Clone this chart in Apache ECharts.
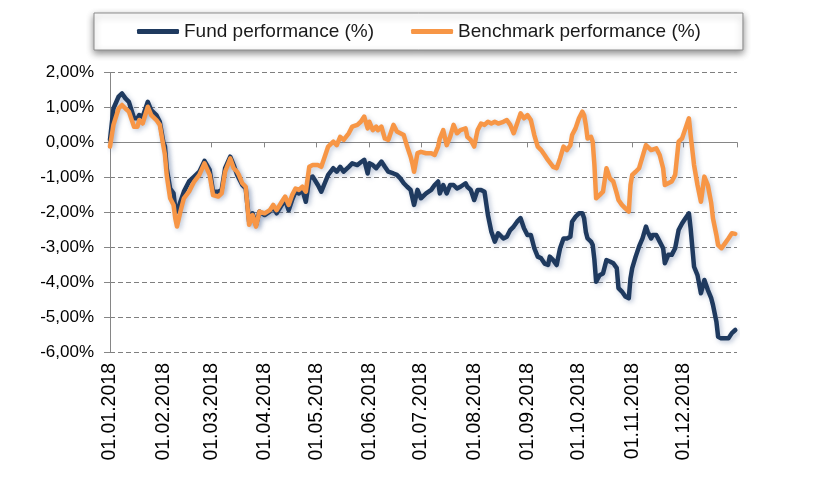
<!DOCTYPE html>
<html><head><meta charset="utf-8">
<script src="https://cdn.jsdelivr.net/npm/echarts@6/dist/echarts.min.js"></script>
<style>html,body{margin:0;padding:0;background:#fff}#c{width:830px;height:481px}</style>
</head><body><div id="c"></div>
<script>
const seriesNames = ['Fund performance (%)', 'Benchmark performance (%)'];

const dates = [
'2018-01-01','2018-01-03','2018-01-06','2018-01-08','2018-01-10','2018-01-12','2018-01-15','2018-01-17','2018-01-18','2018-01-20',
'2018-01-23','2018-01-25','2018-01-28','2018-01-30','2018-02-01','2018-02-02','2018-02-03','2018-02-05','2018-02-07','2018-02-08',
'2018-02-09','2018-02-11','2018-02-13','2018-02-16','2018-02-19','2018-02-22','2018-02-25','2018-02-28','2018-03-02','2018-03-05',
'2018-03-07','2018-03-09','2018-03-12','2018-03-14','2018-03-16','2018-03-17','2018-03-19','2018-03-21','2018-03-23','2018-03-25',
'2018-03-27','2018-03-29','2018-04-01','2018-04-04','2018-04-06','2018-04-08','2018-04-11','2018-04-13','2018-04-15','2018-04-17',
'2018-04-19','2018-04-21','2018-04-23','2018-04-25','2018-04-27','2018-04-29',
'2018-05-02','2018-05-04','2018-05-06','2018-05-08','2018-05-11','2018-05-13','2018-05-15','2018-05-17','2018-05-20','2018-05-22',
'2018-05-25','2018-05-27','2018-05-29','2018-05-31','2018-06-01','2018-06-03','2018-06-05','2018-06-06','2018-06-08','2018-06-10',
'2018-06-12','2018-06-15','2018-06-17','2018-06-19','2018-06-21','2018-06-23','2018-06-25','2018-06-26','2018-06-27','2018-06-29',
'2018-07-01','2018-07-04','2018-07-07','2018-07-09','2018-07-11','2018-07-12','2018-07-14','2018-07-16','2018-07-18','2018-07-20',
'2018-07-22','2018-07-24','2018-07-27','2018-07-28','2018-07-30','2018-08-01','2018-08-03','2018-08-05','2018-08-07','2018-08-09',
'2018-08-11','2018-08-13','2018-08-15','2018-08-18','2018-08-20','2018-08-22','2018-08-24','2018-08-26','2018-08-28','2018-08-30',
'2018-09-01','2018-09-03','2018-09-05','2018-09-07','2018-09-09','2018-09-11','2018-09-13','2018-09-14','2018-09-16','2018-09-18',
'2018-09-20','2018-09-22','2018-09-24','2018-09-26','2018-09-27','2018-09-29','2018-10-01','2018-10-03','2018-10-04','2018-10-05',
'2018-10-06','2018-10-08','2018-10-09','2018-10-10','2018-10-11','2018-10-13','2018-10-15','2018-10-17','2018-10-19','2018-10-21',
'2018-10-23','2018-10-24','2018-10-26','2018-10-28','2018-10-30','2018-10-31','2018-11-01','2018-11-03','2018-11-05','2018-11-07',
'2018-11-09','2018-11-10','2018-11-12','2018-11-13','2018-11-15','2018-11-17','2018-11-19','2018-11-20','2018-11-22','2018-11-24',
'2018-11-26','2018-11-28','2018-11-30','2018-12-02','2018-12-04','2018-12-05','2018-12-07','2018-12-09','2018-12-11','2018-12-13',
'2018-12-15','2018-12-17','2018-12-18','2018-12-20','2018-12-21','2018-12-23','2018-12-25','2018-12-27','2018-12-29','2018-12-31'
];

const fundValues = [
0.07, 0.97, 1.31, 1.40, 1.26, 1.16, 0.69, 0.69, 0.78, 0.73,
1.16, 0.92, 0.78, 0.59, 0.02, -0.12, -0.74, -1.32, -1.46, -1.89,
-1.98, -1.70, -1.41, -1.12, -0.98, -0.84, -0.53, -0.79, -1.41, -1.41,
-1.36, -0.74, -0.41, -0.65, -0.93, -1.03, -1.22, -1.32, -2.27, -2.03,
-2.36, -1.98, -2.08, -1.98, -1.84, -2.03, -1.79, -1.65, -1.94, -1.65,
-1.41, -1.46, -1.36, -1.70, -1.03, -0.98,
-1.22, -1.41, -1.17, -0.93, -0.74, -0.84, -0.70, -0.84, -0.70, -0.60,
-0.65, -0.57, -0.50, -0.89, -0.60, -0.65, -0.74, -0.79, -0.55, -0.70,
-0.84, -0.89, -0.93, -1.03, -1.17, -1.27, -1.36, -1.41, -1.79, -1.36,
-1.60, -1.46, -1.36, -1.22, -1.12, -1.46, -1.22, -1.46, -1.22, -1.22,
-1.32, -1.27, -1.17, -1.27, -1.36, -1.65, -1.36, -1.36, -1.41, -2.08,
-2.56, -2.84, -2.60, -2.75, -2.70, -2.51, -2.41, -2.27, -2.17, -2.46,
-2.65, -2.65, -3.03, -3.27, -3.32, -3.47, -3.51, -3.27, -3.37, -3.51,
-3.03, -2.75, -2.75, -2.70, -2.27, -2.13, -2.03, -2.03, -2.17, -2.56,
-2.75, -2.84, -2.94, -3.37, -3.99, -3.80, -3.75, -3.37, -3.41, -3.46,
-3.60, -4.17, -4.27, -4.41, -4.46, -3.89, -3.60, -3.27, -2.98, -2.75,
-2.41, -2.56, -2.75, -2.65, -2.65, -2.84, -3.03, -3.46, -3.22, -3.22,
-3.03, -2.51, -2.32, -2.17, -2.03, -2.46, -3.56, -3.80, -4.32, -3.94,
-4.22, -4.46, -4.65, -5.13, -5.56, -5.61, -5.61, -5.61, -5.46, -5.37
];

const benchValues = [
-0.12, 0.50, 0.97, 1.07, 0.97, 0.88, 0.45, 0.45, 0.64, 0.54,
1.02, 0.78, 0.64, 0.50, -0.08, -0.36, -0.93, -1.60, -1.79, -2.17,
-2.41, -1.98, -1.60, -1.41, -1.12, -0.93, -0.60, -0.93, -1.51, -1.55,
-1.46, -0.84, -0.46, -0.74, -0.84, -0.93, -1.17, -1.27, -2.36, -2.08,
-2.41, -1.98, -2.03, -1.94, -1.79, -1.94, -1.70, -1.55, -1.79, -1.51,
-1.32, -1.36, -1.27, -1.41, -0.70, -0.65,
-0.65, -0.70, -0.41, -0.12, 0.02, -0.08, 0.16, 0.07, 0.26, 0.45,
0.50, 0.59, 0.74, 0.40, 0.59, 0.35, 0.45, 0.35, 0.45, 0.11,
0.07, 0.50, 0.31, 0.26, 0.21, -0.12, -0.41, -0.60, -0.84, -0.31,
-0.27, -0.31, -0.31, -0.36, -0.12, 0.11, 0.35, -0.08, 0.16, 0.50,
0.26, 0.35, 0.40, 0.16, 0.07, -0.12, 0.35, 0.54, 0.50, 0.59,
0.54, 0.59, 0.54, 0.59, 0.64, 0.50, 0.26, 0.54, 0.83, 0.69,
0.78, 0.64, 0.21, -0.12, -0.22, -0.36, -0.51, -0.55, -0.70, -0.74,
-0.46, -0.12, -0.22, -0.08, 0.21, 0.40, 0.69, 0.88, 0.78, 0.50,
0.11, 0.16, 0.02, -0.65, -1.60, -1.51, -1.41, -0.74, -1.03, -1.12,
-1.46, -1.65, -1.79, -1.89, -1.98, -1.22, -0.93, -0.84, -0.74, -0.41,
-0.08, -0.12, -0.22, -0.22, -0.17, -0.36, -0.74, -1.22, -1.17, -1.12,
-0.93, 0.02, 0.11, 0.40, 0.69, 0.21, -0.65, -1.22, -1.70, -0.98,
-1.22, -1.74, -2.17, -2.65, -2.94, -3.03, -2.89, -2.75, -2.60, -2.62
];

const xTickDates = ['2018-01-01','2018-02-01','2018-03-01','2018-04-01','2018-05-01','2018-06-01',
  '2018-07-01','2018-08-01','2018-09-01','2018-10-01','2018-11-01','2018-12-01','2019-01-01'];
const xLabelDates = ['2018-01-01','2018-02-01','2018-03-01','2018-04-01','2018-05-01','2018-06-01',
  '2018-07-01','2018-08-01','2018-09-01','2018-10-01','2018-11-01','2018-12-01'];
const yMin = -6, yMax = 2, yStep = 1;

function ts(s) { const p = s.split('-'); return Date.UTC(+p[0], +p[1] - 1, +p[2]); }
function pad(n) { return (n < 10 ? '0' : '') + n; }

const font = '"Liberation Sans", Arial, sans-serif';
const axisGray = '#868686';

const chart = echarts.init(document.getElementById('c'), null, { renderer: 'canvas' });
chart.setOption({
  animation: false,
  backgroundColor: '#ffffff',
  grid: { left: 110, right: 93, top: 72.5, bottom: 129 },
  legend: {
    left: 94, top: 13,
    itemWidth: 42, itemHeight: 5, itemGap: 37,
    icon: 'roundRect',
    padding: [9, 42, 9, 43],
    backgroundColor: '#ffffff',
    borderColor: '#8c8c8c', borderWidth: 1,
    shadowBlur: 7, shadowColor: 'rgba(0,0,0,0.45)', shadowOffsetX: 0, shadowOffsetY: 3,
    textStyle: { fontFamily: font, fontSize: 19, color: '#1a1a1a' },
    data: seriesNames
  },
  xAxis: {
    type: 'value',
    min: ts('2018-01-01'), max: ts('2019-01-01'),
    axisLine: { lineStyle: { color: axisGray, width: 1 } },
    axisTick: { show: true, customValues: xTickDates.map(ts), length: 5, lineStyle: { color: axisGray } },
    axisLabel: {
      customValues: xLabelDates.map(ts),
      rotate: 90, margin: 11,
      fontFamily: font, fontSize: 19.5, color: '#000',
      formatter: function (v) { const d = new Date(v); return pad(d.getUTCDate()) + '.' + pad(d.getUTCMonth() + 1) + '.' + d.getUTCFullYear(); }
    },
    splitLine: { show: false }
  },
  yAxis: {
    type: 'value', min: yMin, max: yMax, interval: yStep,
    axisLine: { show: true, lineStyle: { color: axisGray, width: 1 } },
    axisTick: { show: true, length: 6, lineStyle: { color: axisGray } },
    axisLabel: {
      margin: 16, fontFamily: font, fontSize: 17, color: '#000',
      formatter: function (v) { return v.toFixed(2).replace('.', ',') + '%'; }
    },
    splitLine: { show: true, lineStyle: { type: [5, 3], color: '#7f7f7f', width: 1 } }
  },
  series: [
    {
      name: seriesNames[0], type: 'line', showSymbol: false, symbol: 'none',
      data: dates.map((d, i) => [ts(d), fundValues[i]]),
      itemStyle: { color: '#1f3a5f' },
      lineStyle: { color: '#1f3a5f', width: 4.5, cap: 'round', join: 'round',
        shadowColor: 'rgba(60,90,140,0.35)', shadowBlur: 5, shadowOffsetX: 2, shadowOffsetY: 2 }
    },
    {
      name: seriesNames[1], type: 'line', showSymbol: false, symbol: 'none',
      data: dates.map((d, i) => [ts(d), benchValues[i]]),
      itemStyle: { color: '#f79646' },
      lineStyle: { color: '#f79646', width: 4.5, cap: 'round', join: 'round',
        shadowColor: 'rgba(60,90,140,0.30)', shadowBlur: 5, shadowOffsetX: 2, shadowOffsetY: 2 }
    }
  ]
});
</script>
</body></html>
